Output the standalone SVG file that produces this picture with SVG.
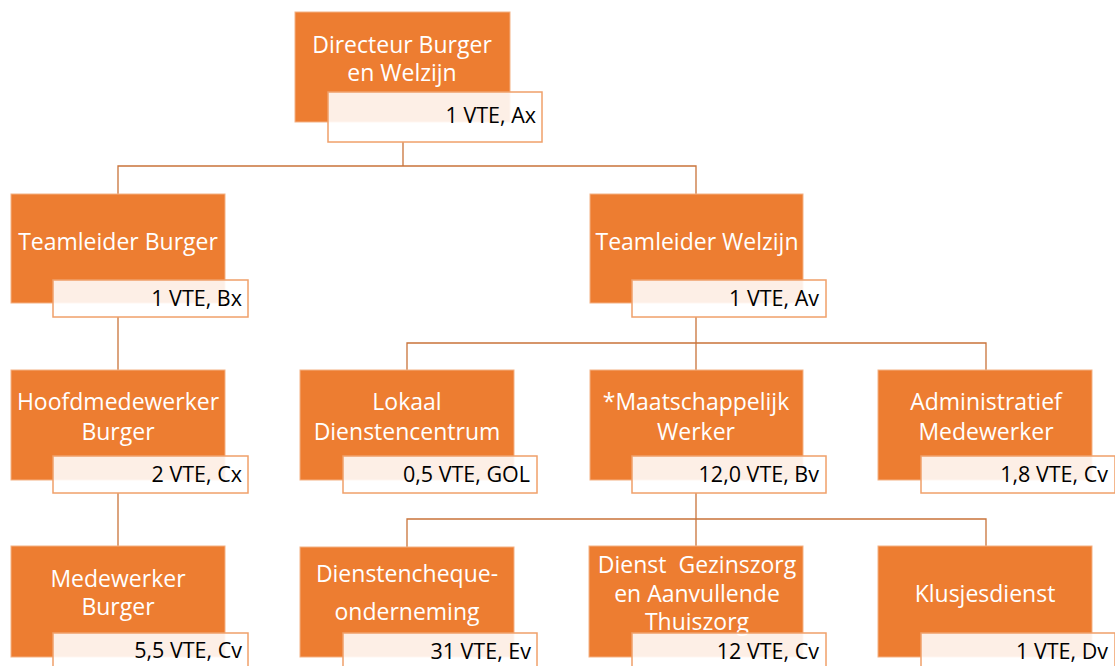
<svg xmlns="http://www.w3.org/2000/svg" width="1115" height="666" viewBox="0 0 1115 666">
<style>
.box{fill:#ED7D31;stroke:#F4B183;stroke-width:1}
.lab{fill:#FFFFFF;fill-opacity:0.88;stroke:#F0A06A;stroke-width:1.5}
.t{font-family:"Open Sans","Liberation Sans",sans-serif;font-size:23px;fill:#FFFFFF;text-anchor:middle}
.v{font-family:"Open Sans","Liberation Sans",sans-serif;font-size:21.5px;fill:#000000;text-anchor:end}
.c{fill:none;stroke:#C9733A;stroke-width:1.3}
</style>
<rect width="1115" height="666" fill="#FFFFFF"/>
<g id="connectors">
<path class="c" d="M403,142 V166 M118,195 V166 H696 V195"/>
<path class="c" d="M118,317 V370"/>
<path class="c" d="M118,493 V546"/>
<path class="c" d="M696,317 V370 M407,370 V343 H986 V370"/>
<path class="c" d="M696,493 V547 M407,547 V519 H986 V547"/>
</g>
<g id="n-directeur">
<rect class="box" x="295" y="12" width="215" height="110"/>
<rect class="lab" x="328" y="92" width="214" height="50"/>
<text class="t" x="402" y="53">Directeur Burger</text>
<text class="t" x="402" y="81">en Welzijn</text>
<text class="v" x="536" y="123">1 VTE, Ax</text>
</g>
<g id="n-teamleider-burger">
<rect class="box" x="11" y="194" width="214" height="109"/>
<rect class="lab" x="53" y="280" width="195" height="37"/>
<text class="t" x="118" y="250">Teamleider Burger</text>
<text class="v" x="242" y="306">1 VTE, Bx</text>
</g>
<g id="n-teamleider-welzijn">
<rect class="box" x="590" y="194" width="213" height="109"/>
<rect class="lab" x="632" y="280" width="194" height="37"/>
<text class="t" x="697" y="250">Teamleider Welzijn</text>
<text class="v" x="819" y="306">1 VTE, Av</text>
</g>
<g id="n-hoofdmedewerker">
<rect class="box" x="11" y="370" width="214" height="110"/>
<rect class="lab" x="53" y="456" width="195" height="37"/>
<text class="t" x="118" y="410">Hoofdmedewerker</text>
<text class="t" x="118" y="440">Burger</text>
<text class="v" x="242" y="482">2 VTE, Cx</text>
</g>
<g id="n-lokaal">
<rect class="box" x="300" y="370" width="214" height="110"/>
<rect class="lab" x="343" y="456" width="194" height="37"/>
<text class="t" x="407" y="410">Lokaal</text>
<text class="t" x="407" y="440">Dienstencentrum</text>
<text class="v" x="530" y="482">0,5 VTE, GOL</text>
</g>
<g id="n-maatschappelijk">
<rect class="box" x="590" y="370" width="213" height="110"/>
<rect class="lab" x="632" y="456" width="194" height="37"/>
<text class="t" x="696" y="410">*Maatschappelijk</text>
<text class="t" x="696" y="440">Werker</text>
<text class="v" x="819" y="482">12,0 VTE, Bv</text>
</g>
<g id="n-administratief">
<rect class="box" x="878" y="370" width="214" height="110"/>
<rect class="lab" x="921" y="456" width="194" height="37"/>
<text class="t" x="986" y="410">Administratief</text>
<text class="t" x="986" y="440">Medewerker</text>
<text class="v" x="1108" y="482">1,8 VTE, Cv</text>
</g>
<g id="n-medewerker-burger">
<rect class="box" x="11" y="546" width="214" height="111"/>
<rect class="lab" x="53" y="633" width="195" height="40"/>
<text class="t" x="118" y="587">Medewerker</text>
<text class="t" x="118" y="615">Burger</text>
<text class="v" x="242" y="658">5,5 VTE, Cv</text>
</g>
<g id="n-dienstencheque">
<rect class="box" x="300" y="547" width="214" height="110"/>
<rect class="lab" x="343" y="633" width="194" height="40"/>
<text class="t" x="407" y="582">Dienstencheque-</text>
<text class="t" x="407" y="620">onderneming</text>
<text class="v" x="531" y="659">31 VTE, Ev</text>
</g>
<g id="n-gezinszorg">
<rect class="box" x="589" y="546" width="214" height="111"/>
<text class="t" x="697" y="573" xml:space="preserve">Dienst  Gezinszorg</text>
<text class="t" x="697" y="602">en Aanvullende</text>
<text class="t" x="697" y="630">Thuiszorg</text>
<rect class="lab" x="632" y="633" width="194" height="40"/>
<text class="v" x="819" y="659">12 VTE, Cv</text>
</g>
<g id="n-klusjesdienst">
<rect class="box" x="878" y="546" width="214" height="111"/>
<rect class="lab" x="921" y="633" width="194" height="40"/>
<text class="t" x="985" y="602">Klusjesdienst</text>
<text class="v" x="1108" y="659">1 VTE, Dv</text>
</g>
</svg>
